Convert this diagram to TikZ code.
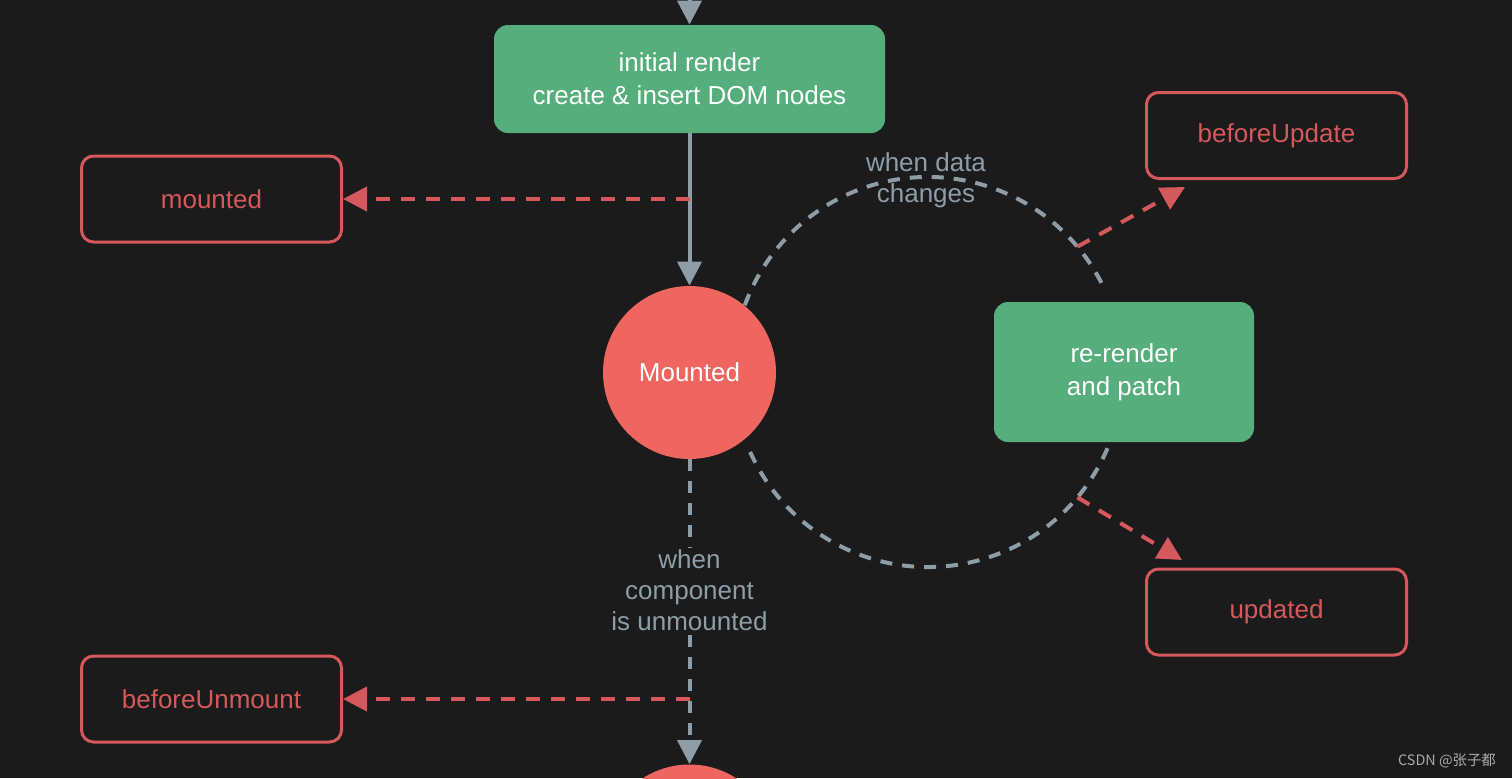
\documentclass[tikz,border=0pt]{standalone}
\usepackage{fontspec}
\setmainfont{Liberation Sans}
\newfontfamily\cjk{Noto Sans CJK SC}
\usetikzlibrary{arrows.meta}
\definecolor{bg}{RGB}{27,27,27}
\definecolor{vgreen}{RGB}{85,174,123}
\definecolor{vred}{RGB}{239,101,96}
\definecolor{hookred}{RGB}{213,88,92}
\definecolor{flowgray}{RGB}{143,158,166}
\definecolor{wmgray}{RGB}{170,170,170}
\tikzset{
  every node/.style={font=\fontsize{13}{16.5}\selectfont, align=center},
  greenbox/.style={fill=vgreen, text=white, rounded corners=7pt, inner sep=0pt},
  hookbox/.style={draw=hookred, line width=1.5pt, text=hookred, rounded corners=6pt,
    minimum width=130pt, minimum height=43pt, inner sep=0pt},
  statecircle/.style={circle, fill=vred, text=white, minimum size=86.5pt, inner sep=0pt},
  flow/.style={draw=flowgray, line width=2pt, -{Triangle[length=12pt,width=12pt]}},
  flowdash/.style={draw=flowgray, line width=2pt, dash pattern=on 6pt off 5pt},
  hookarrow/.style={draw=hookred, line width=2pt, dash pattern=on 7pt off 5.5pt,
    -{Triangle[length=12pt,width=12pt]}},
  flowlabel/.style={text=flowgray, font=\fontsize{13}{15.5}\selectfont},
}
\begin{document}
\begin{tikzpicture}[x=0.5pt,y=-0.5pt]
\path[use as bounding box, fill=bg] (0,0) rectangle (1512,778);
\clip (0,0) rectangle (1512,778);

% nodes
\node[greenbox, minimum width=195.5pt, minimum height=54pt] (init) at (689.5,79)
  {\raisebox{-1pt}{\parbox{190pt}{\centering initial render\\create \& insert DOM nodes}}};
\node[statecircle] (mounted) at (689.5,372.5) {Mounted};
\node[statecircle] (unmounted) at (689.5,851) {};
\node[greenbox, minimum width=130pt, minimum height=70pt] (rerender) at (1124,372)
  {\raisebox{-1.5pt}{\parbox{120pt}{\centering re-render\\and patch}}};
\node[hookbox] (hmounted) at (211.5,199) {mounted};
\node[hookbox] (hbu) at (1276.5,135.5) {beforeUpdate};
\node[hookbox] (hupd) at (1276.5,612) {updated};
\node[hookbox] (hbum) at (211.5,699) {beforeUnmount};

% helper coordinates
\coordinate (top) at (689.5,-40);
\coordinate (c) at (928,372);
\coordinate (m1) at (689.5,199);
\coordinate (m2) at (689.5,699);
\coordinate (tipbu) at (1185,187);
\coordinate (tipupd) at (1182,560);

% main flow
\draw[flow] (top) -- (init.north);
\draw[flow] (init.south) -- (mounted.north);

% update loop
\draw[flowdash] (c) ++(160:97.5pt) arc[start angle=160, end angle=25, radius=97.5pt];
\draw[flowdash] (c) ++(-23:97.5pt) arc[start angle=-23, end angle=-157, radius=97.5pt];
\node[flowlabel] (lbldata) at (926,180) {when data\\changes};

% unmount path
\draw[flowdash, -{Triangle[length=12pt,width=12pt]}] (mounted.south) -- (unmounted.north);
\node[flowlabel, fill=bg, inner sep=0.5pt] (lblunm) at (689.5,590) {when\\component\\is unmounted};

% hooks
\draw[hookarrow] (m1) -- (hmounted.east);
\draw[hookarrow] (m2) -- (hbum.east);
\draw[hookarrow] (c) ++(40:97.5pt) -- (tipbu);
\draw[hookarrow] (c) ++(-40:97.5pt) -- (tipupd);

% watermark
\node[text=wmgray, font=\cjk\fontsize{7.2}{8}\selectfont] (wm) at (1447,761) {CSDN @张子都};
\end{tikzpicture}
\end{document}
